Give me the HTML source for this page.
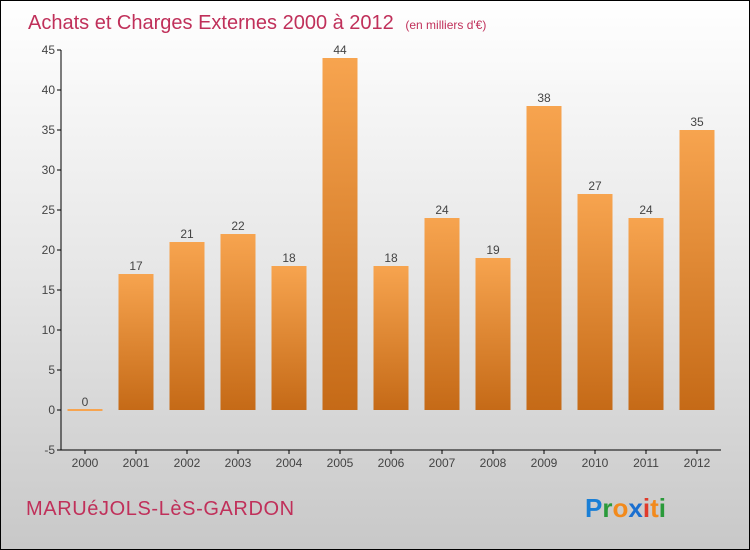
<!DOCTYPE html>
<html><head><meta charset="utf-8"><style>
body{margin:0}
#c{width:748px;height:548px;border:1px solid #000;position:relative;background:linear-gradient(#ffffff,#e6e6e6 50%,#c8c8c8);font-family:"Liberation Sans",sans-serif;overflow:hidden}
</style></head><body>
<div id="c">
<svg width="748" height="548" id="s">
<defs><linearGradient id="g" x1="0" y1="0" x2="0" y2="1"><stop offset="0" stop-color="#f7a44f"/><stop offset="1" stop-color="#c56a17"/></linearGradient></defs>
<text x="27" y="28" font-size="20" fill="#c0305a">Achats et Charges Externes 2000 à 2012 <tspan font-size="12" dx="6">(en milliers d'€)</tspan></text>
<text x="25" y="514" font-size="20" letter-spacing="0.6" fill="#c0305a">MARUéJOLS-LèS-GARDON</text>
<text x="584" y="516" font-size="26" font-weight="bold"><tspan fill="#1a7fd6">P</tspan><tspan fill="#2a9a3a">r</tspan><tspan fill="#f28a1c">o</tspan><tspan fill="#1a6fd0">x</tspan><tspan fill="#e03a2a">i</tspan><tspan fill="#f28a1c">t</tspan><tspan fill="#2a9a3a">i</tspan></text>
<g id="plot"></g>
</svg></div>
<script>
const years=["2000","2001","2002","2003","2004","2005","2006","2007","2008","2009","2010","2011","2012"];
const values=[0,17,21,22,18,44,18,24,19,38,27,24,35];
const yTicks=[-5,0,5,10,15,20,25,30,35,40,45];
const ns="http://www.w3.org/2000/svg",p=document.getElementById('plot');
const y=v=>409-(v)*8, x=i=>84+i*51;
function el(t,a,txt){const e=document.createElementNS(ns,t);for(const k in a)e.setAttribute(k,a[k]);if(txt!=null)e.textContent=txt;p.appendChild(e);return e;}
yTicks.forEach(t=>{
 const l=el('line',{x1:56,x2:60,y1:y(t),y2:y(t),stroke:'#000'});
 
 
 const tx=el('text',{x:54,y:y(t)+4,'text-anchor':'end','font-size':12,fill:'#444'},t);
 
 
});
values.forEach((v,i)=>{
 const cx=x(i);
 if(v>0){const r=el('rect',{x:cx-17.5,y:y(v),width:35,height:y(0)-y(v),fill:'url(#g)'});
 
 }
 else{const r=el('line',{x1:cx-17.5,x2:cx+17.5,y1:y(0),y2:y(0),stroke:'#f7a44f','stroke-width':2});
 
 }
 const lb=el('text',{x:cx,y:y(v)-4,'text-anchor':'middle','font-size':12,fill:'#444'},v);
 
 
 const tk=el('line',{x1:cx,x2:cx,y1:449,y2:453,stroke:'#000'});
 
 
 const xl=el('text',{x:cx,y:466,'text-anchor':'middle','font-size':12,fill:'#444'},years[i]);
 
 
});
const ya=el('line',{x1:60,x2:60,y1:y(45),y2:449,stroke:'#000'});


const xa=el('line',{x1:60,x2:720,y1:449,y2:449,stroke:'#000'});


</script>
</body></html>
